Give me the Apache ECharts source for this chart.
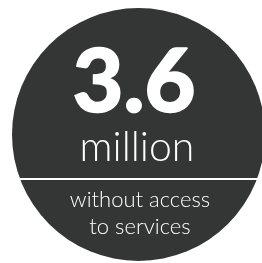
<!DOCTYPE html>
<html>
<head>
<meta charset="utf-8">
<script src="https://cdn.jsdelivr.net/npm/echarts@6/dist/echarts.min.js"></script>
<style>
  html, body { margin: 0; padding: 0; background: #fff; }
  #chart { width: 262px; height: 263px; }
</style>
</head>
<body>
<div id="chart"></div>
<script>
// headline figure and captions
const figure = [3.6];
const unit = ['million'];
const caption = ['without access', 'to services'];

let myecharts = echarts.init(document.getElementById('chart'));

myecharts.setOption({
  animation: false,
  backgroundColor: '#fff',
  series: [
    {
      // the dark disc
      type: 'pie',
      center: [138.5, 134.5],
      radius: [0, 126.5],
      silent: true,
      z: 1,
      label: { show: false },
      labelLine: { show: false },
      itemStyle: { color: '#343636' },
      data: figure.map(v => ({ value: v }))
    }
  ],
  graphic: {
    elements: [
      {
        type: 'text',
        x: 134,
        y: 40,
        z: 100,
        style: {
          text: figure[0].toFixed(1),
          fill: '#fff',
          stroke: '#fff',
          lineWidth: 1.5,
          font: '900 88px Lato',
          textAlign: 'center'
        }
      },
      {
        type: 'text',
        x: 137,
        y: 127,
        z: 100,
        style: {
          text: unit[0],
          fill: '#fff',
          font: '300 41px Lato',
          textAlign: 'center'
        }
      },
      {
        type: 'line',
        z: 100,
        shape: { x1: 20, y1: 179, x2: 258, y2: 179 },
        style: { stroke: '#fff', lineWidth: 2 }
      },
      {
        type: 'text',
        x: 140,
        y: 186,
        z: 100,
        style: {
          text: caption.join('\n'),
          fill: '#fff',
          font: '300 22px Lato',
          lineHeight: 27,
          textAlign: 'center'
        }
      }
    ]
  }
});
</script>
</body>
</html>
